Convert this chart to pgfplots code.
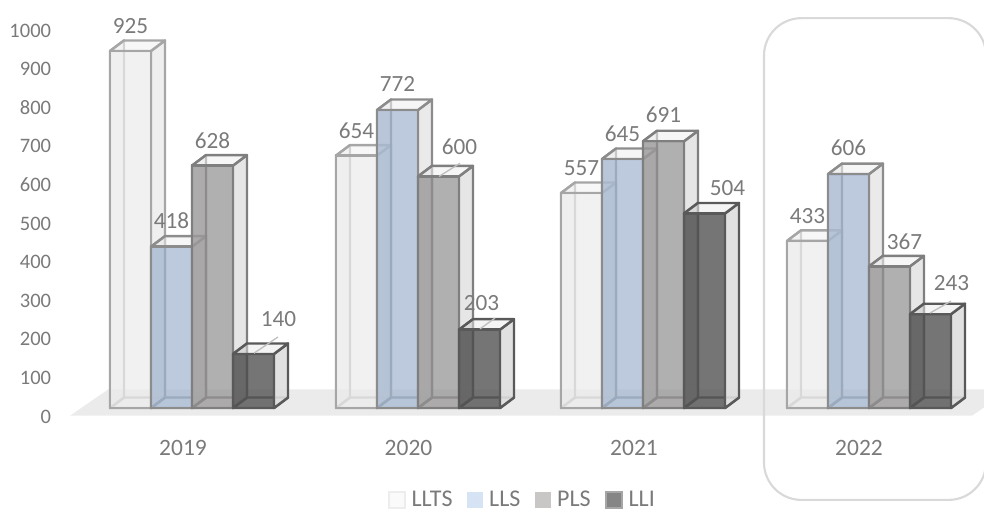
\documentclass[border=0pt]{standalone}
\usepackage{fontspec}
\setmainfont{Carlito}
\usepackage{pgfplots}
\pgfplotsset{compat=1.18}

\definecolor{txt}{HTML}{7A7A7A}
\definecolor{floorc}{HTML}{EBEBEB}
\definecolor{framec}{HTML}{D9D9D9}
\definecolor{leader}{HTML}{BFBFBF}
\definecolor{frontA}{HTML}{ECECEC}
\definecolor{frontB}{HTML}{A3B6D0}
\definecolor{frontC}{HTML}{939191}
\definecolor{frontD}{HTML}{535353}
\definecolor{edgeA}{HTML}{A6A6A6}
\definecolor{edgeB}{HTML}{8C8C8C}
\definecolor{edgeC}{HTML}{7F7F7F}
\definecolor{edgeD}{HTML}{595959}

% Shell of one 3D column: parts behind the front face, then right side and lid.
% #1 left x, #2 value, #3 edge colour, #4 side colour, #5 lid colour, #6 inner band colour
\newcommand{\columnshell}[6]{%
  \pgfmathsetmacro{\xa}{#1}%
  \pgfmathsetmacro{\xb}{#1+41}%
  \pgfmathsetmacro{\xc}{#1+14}%
  \pgfmathsetmacro{\xd}{#1+55}%
  \pgfmathsetmacro{\vt}{#2}%
  \pgfmathsetmacro{\vb}{#2+27.2}%
  % floor of the column
  \addplot[forget plot,fill=#5,fill opacity=.55,draw=#3,line width=1.8pt,line join=round]
    coordinates {(\xa,0)(\xb,0)(\xd,27.2)(\xc,27.2)} --cycle;
  % inner left wall
  \addplot[forget plot,fill=#6,fill opacity=.35,draw=#3,line width=1.8pt,line join=round]
    coordinates {(\xa,0)(\xc,27.2)(\xc,\vb)(\xa,\vt)} --cycle;
  % right wall
  \addplot[forget plot,fill=#4,fill opacity=.9,draw=#3,line width=1.8pt,line join=round]
    coordinates {(\xb,0)(\xd,27.2)(\xd,\vb)(\xb,\vt)} --cycle;
  % lid
  \addplot[forget plot,fill=#5,fill opacity=.6,draw=#3,line width=1.8pt,line join=round]
    coordinates {(\xa,\vt)(\xb,\vt)(\xd,\vb)(\xc,\vb)} --cycle;
}
% #1 centre x, #2 value, #3 horizontal offset, #4 vertical offset (both in px)
\newcommand{\valuelabel}[4]{%
  \node[font=\fontsize{17.4}{17}\selectfont,text=txt,inner sep=0pt]
    at (axis cs:#1,#2) [xshift=#3*0.75pt,yshift=#4*0.75pt] {#2};
}

\begin{document}
\begin{tikzpicture}
\useasboundingbox (0,0) rectangle (738pt,384pt);
\clip (0,0) rectangle (738pt,384pt);
\begin{axis}[
  at={(0,0)},anchor=south west,
  scale only axis,width=738pt,height=384pt,
  xmin=0,xmax=984,ymin=-269.4,ymax=1057,
  axis line style={draw=none},
  major tick length=0pt,
  xtick={183,408.5,634,859},
  xticklabels={2019,2020,2021,2022},
  ytick={0,100,...,1000},
  /pgf/number format/assume math mode=true,
  /pgf/number format/1000 sep={},
  yticklabel style={font=\fontsize{15.4}{15}\selectfont,text=txt,anchor=east,inner sep=0pt,xshift=38.5pt,yshift=-6.4pt},
  xticklabel style={font=\fontsize{17.6}{17}\selectfont,text=txt,anchor=center,inner sep=0pt,yshift=48.4pt},
  legend columns=-1,
  legend style={at={(0.3945,0.006)},anchor=south west,draw=none,fill=none,inner sep=0pt,outer sep=0pt,
    font=\fontsize{18}{18}\selectfont,text=txt,
    nodes={inner xsep=4.5pt,inner ysep=0pt},
    /tikz/every even column/.append style={column sep=6.5pt}},
  legend image code/.code={\path[#1] (0pt,-6pt) rectangle (12pt,6pt);},
]
% ground plane
\addplot[forget plot,fill=floorc,draw=none]
  coordinates {(70,-20)(972,-20)(1010,48)(108,48)} --cycle;

% LLTS
\columnshell{110}{925}{edgeA}{black!7}{black!5}{black!10}
\columnshell{336}{654}{edgeA}{black!7}{black!5}{black!10}
\columnshell{561}{557}{edgeA}{black!7}{black!5}{black!10}
\columnshell{787}{433}{edgeA}{black!7}{black!5}{black!10}
\addplot[forget plot,ybar,bar width=30.75pt,fill=frontA,fill opacity=.72,draw=edgeA,line width=1.8pt]
  coordinates {(130.5,925)(356.5,654)(581.5,557)(807.5,433)};

% LLS
\columnshell{151}{418}{edgeB}{black!9}{black!6}{black!15}
\columnshell{377}{772}{edgeB}{black!9}{black!6}{black!15}
\columnshell{602}{645}{edgeB}{black!9}{black!6}{black!15}
\columnshell{828}{606}{edgeB}{black!9}{black!6}{black!15}
\addplot[forget plot,ybar,bar width=30.75pt,fill=frontB,fill opacity=.72,draw=edgeB,line width=1.8pt]
  coordinates {(171.5,418)(397.5,772)(622.5,645)(848.5,606)};

% PLS
\columnshell{192}{628}{edgeC}{black!11}{black!6}{black!15}
\columnshell{418}{600}{edgeC}{black!11}{black!6}{black!15}
\columnshell{643}{691}{edgeC}{black!11}{black!6}{black!15}
\columnshell{869}{367}{edgeC}{black!11}{black!6}{black!15}
\addplot[forget plot,ybar,bar width=30.75pt,fill=frontC,fill opacity=.72,draw=edgeC,line width=1.8pt]
  coordinates {(212.5,628)(438.5,600)(663.5,691)(889.5,367)};

% LLI
\columnshell{233}{140}{edgeD}{black!13}{black!7}{black!55}
\columnshell{459}{203}{edgeD}{black!13}{black!7}{black!55}
\columnshell{684}{504}{edgeD}{black!13}{black!7}{black!55}
\columnshell{910}{243}{edgeD}{black!13}{black!7}{black!55}
\addplot[forget plot,ybar,bar width=30.75pt,fill=frontD,fill opacity=.8,draw=edgeD,line width=1.8pt]
  coordinates {(253.5,140)(479.5,203)(704.5,504)(930.5,243)};

% legend swatches
\addlegendimage{fill=black!2,draw=black!7,line width=1pt}
\addlegendentry{LLTS}
\addlegendimage{fill={rgb,255:red,213;green,227;blue,245},draw=none}
\addlegendentry{LLS}
\addlegendimage{fill={rgb,255:red,201;green,198;blue,198},draw=none}
\addlegendentry{PLS}
\addlegendimage{fill=black!48,draw=black!35,line width=1pt}
\addlegendentry{LLI}

% value labels
\valuelabel{130.5}{925}{0}{25}
\valuelabel{171.5}{418}{0}{26}
\valuelabel{212.5}{628}{0}{25}
\valuelabel{253.5}{140}{25}{35}
\valuelabel{356.5}{654}{0}{25}
\valuelabel{397.5}{772}{0}{26}
\valuelabel{438.5}{600}{21}{30}
\valuelabel{479.5}{203}{2}{27}
\valuelabel{581.5}{557}{0}{25}
\valuelabel{622.5}{645}{0}{25}
\valuelabel{663.5}{691}{0}{27}
\valuelabel{704.5}{504}{23}{25}
\valuelabel{807.5}{433}{0}{25}
\valuelabel{848.5}{606}{0}{26}
\valuelabel{889.5}{367}{15}{25}
\valuelabel{930.5}{243}{21}{31}

% leader lines
\draw[leader,line width=1pt] (axis cs:254,142) -- (axis cs:278,184);
\draw[leader,line width=1pt] (axis cs:439,600) -- (axis cs:460,634);
\draw[leader,line width=1pt] (axis cs:480,205) -- (axis cs:495,233);
\draw[leader,line width=1pt] (axis cs:930,246) -- (axis cs:951,277);

% frame around the last year
\draw[framec,line width=1.6pt,rounded corners=28pt]
  (axis cs:764,1010) rectangle (axis cs:986,-238);
\end{axis}
\end{tikzpicture}
\end{document}
